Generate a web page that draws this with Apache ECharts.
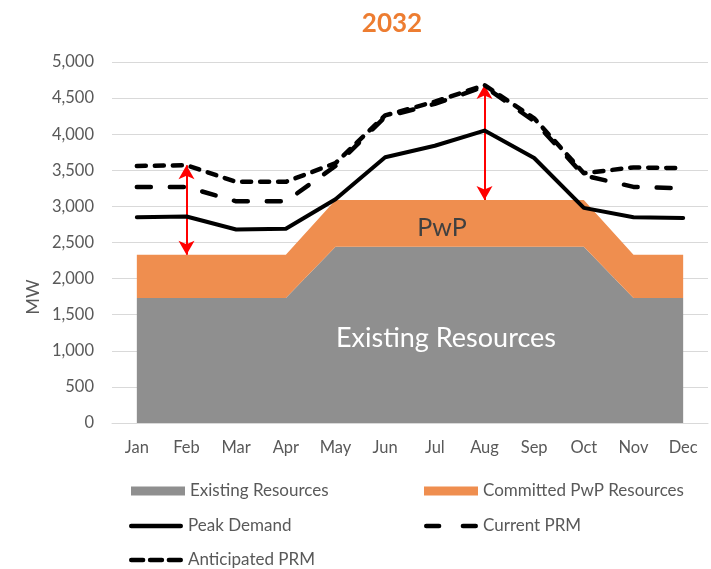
<!DOCTYPE html>
<html>
<head>
<meta charset="utf-8">
<script src="https://cdn.jsdelivr.net/npm/echarts@6/dist/echarts.min.js"></script>
<style>
  html, body { margin: 0; padding: 0; background: #fff; }
  #chart { width: 711px; height: 569px; }
</style>
</head>
<body>
<div id="chart"></div>
<script>
// 数据
const months = ['Jan', 'Feb', 'Mar', 'Apr', 'May', 'Jun', 'Jul', 'Aug', 'Sep', 'Oct', 'Nov', 'Dec'];
const existing = [1730, 1730, 1730, 1730, 2440, 2440, 2440, 2440, 2440, 2440, 1730, 1730];
const committed = [600, 600, 600, 600, 650, 650, 650, 650, 650, 650, 600, 600];
const peakDemand = [2850, 2860, 2680, 2690, 3100, 3680, 3840, 4050, 3670, 2980, 2850, 2840];
const currentPRM = [3270, 3270, 3070, 3070, 3560, 4240, 4420, 4660, 4180, 3430, 3270, 3250];
const anticipatedPRM = [3560, 3570, 3340, 3340, 3600, 4260, 4450, 4680, 4220, 3460, 3540, 3530];
const arrowMonths = ['Feb', 'Aug'];

const FONT = 'Lato';
const GREY_TXT = '#595959';

// 图例图标
const ICON_RECT = 'path://M0,0H54V9H0Z';
const ICON_SOLID = 'path://M2,0H52A2,2 0 0 1 52,4.5H2A2,2 0 0 1 2,0Z';
const ICON_LONGDASH = 'path://M2,0H15A2,2 0 0 1 15,4.5H2A2,2 0 0 1 2,0Z M39,0H52A2,2 0 0 1 52,4.5H39A2,2 0 0 1 39,0Z';
const ICON_SHORTDASH = 'path://M2,0H14A2,2 0 0 1 14,4.5H2A2,2 0 0 1 2,0Z M21,0H33A2,2 0 0 1 33,4.5H21A2,2 0 0 1 21,0Z M40,0H52A2,2 0 0 1 52,4.5H40A2,2 0 0 1 40,0Z';

const chart = echarts.init(document.getElementById('chart'), null, { renderer: 'canvas' });

// 箭头：从资源总量到 Anticipated PRM
const arrows = arrowMonths.map(m => {
  const i = months.indexOf(m);
  return [
    { coord: [m, existing[i] + committed[i]] },
    { coord: [m, anticipatedPRM[i]] }
  ];
});

function legendRow(left, top, name, icon) {
  return {
    left: left, top: top,
    padding: 0,
    itemWidth: 54, itemHeight: 14, itemGap: 0,
    symbolKeepAspect: true,
    selectedMode: false,
    textStyle: { color: GREY_TXT, fontSize: 17, lineHeight: 18, fontFamily: FONT },
    data: [{ name: name, icon: icon }]
  };
}

const option = {
  animation: false,
  textStyle: { fontFamily: FONT },
  title: {
    text: '2032',
    left: 387,
    textAlign: 'center',
    top: 6,
    textStyle: { color: '#ED7D31', fontSize: 26, fontWeight: 'bold', fontFamily: FONT }
  },
  grid: { left: 112, right: 3, top: 62, bottom: 146 },
  xAxis: {
    type: 'category',
    data: months,
    axisTick: { show: false },
    axisLine: { lineStyle: { color: '#d9d9d9', width: 1 } },
    axisLabel: { color: GREY_TXT, fontSize: 16.5, margin: 16, fontFamily: FONT }
  },
  yAxis: {
    type: 'value',
    min: 0,
    max: 5000,
    interval: 500,
    axisLabel: {
      color: GREY_TXT,
      fontSize: 16.5,
      margin: 18,
      fontFamily: FONT,
      formatter: v => v.toLocaleString('en-US')
    },
    splitLine: { lineStyle: { color: '#d9d9d9', width: 1 } }
  },
  legend: [
    legendRow(131, 482, 'Existing Resources', ICON_RECT),
    legendRow(129, 517, 'Peak Demand', ICON_SOLID),
    legendRow(129, 551, 'Anticipated PRM', ICON_SHORTDASH),
    legendRow(424, 482, 'Committed PwP Resources', ICON_RECT),
    legendRow(424, 517, 'Current PRM', ICON_LONGDASH)
  ],
  graphic: [
    {
      type: 'text', x: 33, y: 297, rotation: Math.PI / 2,
      style: { text: 'MW', fill: GREY_TXT, font: '18px ' + FONT, align: 'center', verticalAlign: 'middle' }
    },
    {
      type: 'text', x: 442, y: 228,
      style: { text: 'PwP', fill: '#404040', font: '25px ' + FONT, align: 'center', verticalAlign: 'middle' },
      z: 20
    },
    {
      type: 'text', x: 446, y: 338,
      style: { text: 'Existing Resources', fill: '#ffffff', font: '27px ' + FONT, align: 'center', verticalAlign: 'middle' },
      z: 20
    }
  ],
  series: [
    {
      name: 'Existing Resources',
      type: 'line',
      stack: 'res',
      data: existing,
      symbol: 'none',
      lineStyle: { width: 0 },
      itemStyle: { color: '#8f8f8f' },
      areaStyle: { color: '#8f8f8f', opacity: 1 },
      z: 1
    },
    {
      name: 'Committed PwP Resources',
      type: 'line',
      stack: 'res',
      data: committed,
      symbol: 'none',
      lineStyle: { width: 0 },
      itemStyle: { color: '#ef8e4f' },
      areaStyle: { color: '#ef8e4f', opacity: 1 },
      z: 1
    },
    {
      name: 'Peak Demand',
      type: 'line',
      data: peakDemand,
      symbol: 'none',
      itemStyle: { color: '#000' },
      lineStyle: { color: '#000', width: 4, cap: 'round', join: 'round' },
      z: 5,
      markLine: {
        silent: true,
        symbol: ['arrow', 'arrow'],
        symbolSize: [12, 14],
        label: { show: false },
        lineStyle: { color: '#ff0000', width: 2, type: 'solid' },
        data: arrows
      }
    },
    {
      name: 'Current PRM',
      type: 'line',
      data: currentPRM,
      symbol: 'none',
      itemStyle: { color: '#000' },
      lineStyle: { color: '#000', width: 4.5, type: [14, 19], cap: 'round', join: 'round' },
      z: 5
    },
    {
      name: 'Anticipated PRM',
      type: 'line',
      data: anticipatedPRM,
      symbol: 'none',
      itemStyle: { color: '#000' },
      lineStyle: { color: '#000', width: 4.5, type: [9, 9], cap: 'round', join: 'round' },
      z: 5
    }
  ]
};

chart.setOption(option);
</script>
</body>
</html>
